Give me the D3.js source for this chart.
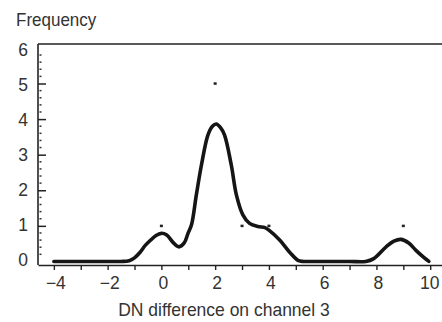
<!DOCTYPE html>
<html>
<head>
<meta charset="utf-8">
<script src="https://cdn.jsdelivr.net/npm/d3@7"></script>
<style>
  body { margin: 0; background: #fff; }
  text { font-family: "Liberation Sans", Arial, sans-serif; fill: #333; }
</style>
</head>
<body>
<div id="chart"></div>
<script>
// courbe lissee
const curveX = [-4, -3, -2, -1.5, -1.2, -1.0, -0.8, -0.6, -0.4, -0.2, 0.0, 0.2, 0.45, 0.65, 0.85, 0.99, 1.12, 1.3, 1.49, 1.73, 1.9, 2.04, 2.2, 2.35, 2.6, 2.79, 3.03, 3.28, 3.59, 3.85, 4.0, 4.4, 4.77, 5.1, 5.3, 6, 7, 7.6, 7.9, 8.36, 8.65, 8.91, 9.2, 9.47, 9.75, 9.95];
const curveY = [0, 0, 0, 0, 0.02, 0.1, 0.25, 0.45, 0.6, 0.73, 0.79, 0.74, 0.52, 0.41, 0.52, 0.79, 1.03, 1.87, 2.71, 3.55, 3.8, 3.86, 3.76, 3.55, 2.71, 1.87, 1.31, 1.07, 0.98, 0.95, 0.88, 0.6, 0.26, 0.02, 0, 0, 0, 0, 0.08, 0.41, 0.57, 0.62, 0.52, 0.31, 0.12, 0];

// frequences observees
const pointX = [0, 2, 3, 4, 9];
const pointY = [1, 5, 1, 1, 1];

// graduations
const xTicks = d3.range(-4, 11);
const yTicks = [0, 1, 2, 3, 4, 5, 6];
const yMinor = d3.range(0.2, 6.1, 0.2).filter(v => Math.abs(v - Math.round(v)) > 0.01);

const width = 442, height = 322;

const svg = d3.select("#chart")
    .append("svg")
        .attr("width", width)
        .attr("height", height);

const x = d3.scaleLinear().domain([-4.59, 10.55]).range([38, 445]);
const y = d3.scaleLinear().domain([-0.1, 6.11]).range([265, 44]);

// cadre
svg.append("line")
    .attr("x1", x.range()[0]).attr("x2", x.range()[0])
    .attr("y1", y.range()[1]).attr("y2", y.range()[0])
    .attr("stroke", "#222").attr("stroke-width", 1.6);
svg.append("line")
    .attr("x1", x.range()[0]).attr("x2", x.range()[1])
    .attr("y1", y.range()[1]).attr("y2", y.range()[1])
    .attr("stroke", "#222").attr("stroke-width", 1.6);

// axe X
const xAxis = svg.append("g")
    .attr("transform", `translate(0, ${y.range()[0]})`)
    .call(d3.axisBottom(x)
        .tickValues(xTicks)
        .tickSize(5)
        .tickSizeOuter(0)
        .tickPadding(7)
        .tickFormat(d => d % 2 === 0 ? d3.format("d")(d) : ""));
xAxis.select(".domain").attr("stroke", "#222").attr("stroke-width", 1.6);
xAxis.selectAll(".tick line").attr("stroke", "#222").attr("stroke-width", 1.4);
xAxis.selectAll(".tick text")
    .attr("dx", d => d === 10 ? -1 : 1.5)
    .style("font-size", "17.5px")
    .style("fill", "#333");

// axe Y (graduations vers l'interieur)
const yAxis = svg.append("g")
    .attr("transform", `translate(${x.range()[0]}, 0)`)
    .call(d3.axisLeft(y)
        .tickValues(yTicks)
        .tickSize(-8)
        .tickPadding(10)
        .tickFormat(d3.format("d")));
yAxis.select(".domain").remove();
yAxis.selectAll(".tick line")
    .attr("stroke", "#222").attr("stroke-width", 1.5)
    .style("display", d => (d === 0 || d === 6) ? "none" : null);
yAxis.selectAll(".tick text")
    .attr("dy", d => (0.32 + (d - 3) * 0.03) + "em")
    .style("font-size", "17.5px")
    .style("fill", "#333");

// petites graduations en pointille
svg.append("g")
    .selectAll("line")
    .data(yMinor)
    .enter()
    .append("line")
        .attr("x1", x.range()[0] + 1.5)
        .attr("x2", x.range()[0] + 3.5)
        .attr("y1", d => y(d))
        .attr("y2", d => y(d))
        .attr("stroke", "#333")
        .attr("stroke-width", 1.5);

// courbe
const curveData = curveX.map((v, i) => ({x: v, y: curveY[i]}));
svg.append("path")
    .datum(curveData)
    .attr("fill", "none")
    .attr("stroke", "#151515")
    .attr("stroke-width", 3.6)
    .attr("stroke-linejoin", "round")
    .attr("stroke-linecap", "round")
    .attr("d", d3.line()
        .x(d => x(d.x))
        .y(d => y(d.y))
        .curve(d3.curveCatmullRom.alpha(0.5)));

// points
const pointData = pointX.map((v, i) => ({x: v, y: pointY[i]}));
svg.selectAll(".pt")
    .data(pointData)
    .enter()
    .append("rect")
        .attr("class", "pt")
        .attr("x", d => x(d.x) - 1.5)
        .attr("y", d => y(d.y) - 1.2)
        .attr("width", 3)
        .attr("height", 2.5)
        .attr("fill", "#222");

// titres
svg.append("text")
    .attr("transform", "translate(16, 26) scale(1, 1.1)")
    .style("font-size", "17px")
    .text("Frequency");

svg.append("text")
    .attr("transform", "translate(224, 315.5) scale(1, 1.1)")
    .attr("text-anchor", "middle")
    .style("font-size", "17.5px")
    .text("DN difference on channel 3");
</script>
</body>
</html>
